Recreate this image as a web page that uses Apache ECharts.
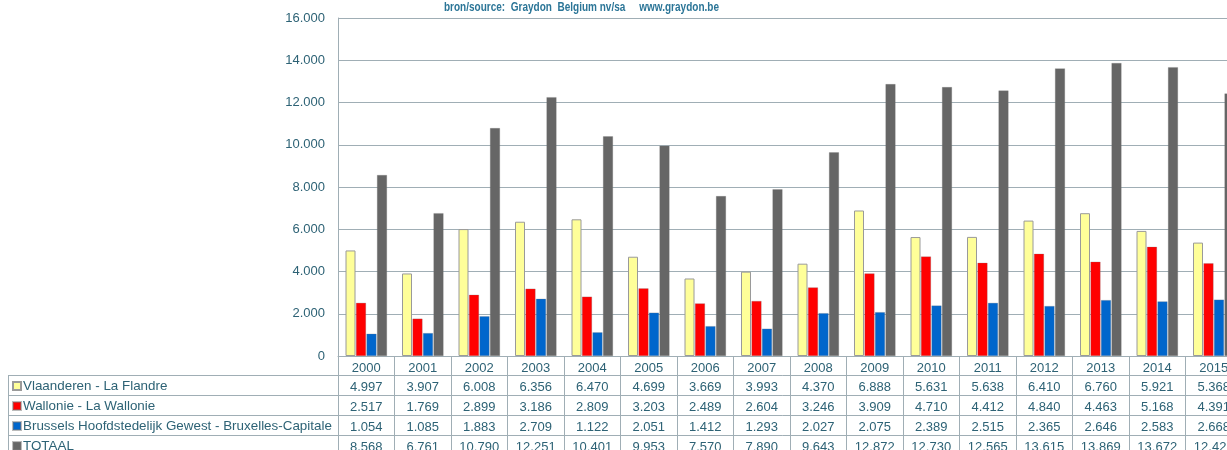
<!DOCTYPE html>
<html>
<head>
<meta charset="utf-8">
<script src="https://cdn.jsdelivr.net/npm/echarts@6/dist/echarts.min.js"></script>
<style>
  html, body { margin: 0; padding: 0; background: #fff; }
  #chart { width: 1227px; height: 450px; }
</style>
</head>
<body>
<div id="chart"></div>
<script>
    // jaren en aantallen (bron: Graydon)
    var years = ['2000','2001','2002','2003','2004','2005','2006','2007','2008','2009','2010','2011','2012','2013','2014','2015'];
    var vlaanderen = [4997,3907,6008,6356,6470,4699,3669,3993,4370,6888,5631,5638,6410,6760,5921,5368];
    var wallonie = [2517,1769,2899,3186,2809,3203,2489,2604,3246,3909,4710,4412,4840,4463,5168,4391];
    var brussel = [1054,1085,1883,2709,1122,2051,1412,1293,2027,2075,2389,2515,2365,2646,2583,2668];
    var totaal = [8568,6761,10790,12251,10401,9953,7570,7890,9643,12872,12730,12565,13615,13869,13672,12427];
    var seriesNames = ['Vlaanderen - La Flandre','Wallonie - La Wallonie','Brussels Hoofdstedelijk Gewest - Bruxelles-Capitale','TOTAAL'];
    var yTicks = [0,2000,4000,6000,8000,10000,12000,14000,16000];

    var textColor = '#2d6275';
    var lineColor = '#a0aeb5';
    var font = "'Liberation Sans', Arial, sans-serif";

    function fmt(v){
        return String(v).replace(/\B(?=(\d{3})+(?!\d))/g, '.');
    }

    var allData = [vlaanderen, wallonie, brussel, totaal];
    var colors = ['#ffff99','#ff0000','#0066cc','#666666'];

    // extra x-assen = rijen van de datatabel
    var xAxes = [{
        type: 'category',
        data: years,
        position: 'bottom',
        axisLine: {lineStyle: {color: lineColor}},
        axisTick: {show: true, interval: 0, length: 19, lineStyle: {color: lineColor}},
        axisLabel: {interval: 0, color: textColor, fontSize: 13, fontFamily: font, margin: 6}
    }];
    for(var i=0;i<allData.length;i++){
        xAxes.push({
            type: 'category',
            data: allData[i].map(fmt),
            position: 'bottom',
            offset: 19 + i*20,
            axisLine: {show: true, lineStyle: {color: lineColor}},
            axisTick: {show: true, interval: 0, length: 20, lineStyle: {color: lineColor}},
            axisLabel: {interval: 0, color: textColor, fontSize: 13, fontFamily: font, margin: 6}
        });
    }

    var series = [];
    for(var j=0;j<allData.length;j++){
        series.push({
            name: seriesNames[j],
            type: 'bar',
            xAxisIndex: 0,
            data: allData[j],
            barWidth: 10,
            barGap: '5%',
            itemStyle: {color: colors[j], borderColor: j==0 ? '#9a9a9a' : 'rgba(120,120,120,0.5)', borderWidth: j==0 ? 1 : 0.5}
        });
    }

    // linker kolom van de tabel + titel
    var graphics = [];
    var rowTops = [375,395,415,435,455];
    for(var r=0;r<rowTops.length;r++){
        graphics.push({type:'line', shape:{x1:8,y1:rowTops[r]+0.5,x2:338,y2:rowTops[r]+0.5}, style:{stroke:lineColor, lineWidth:1}, silent:true});
    }
    graphics.push({type:'line', shape:{x1:8.5,y1:375,x2:8.5,y2:455}, style:{stroke:lineColor, lineWidth:1}, silent:true});
    graphics.push({
        type: 'text', x: 444, y: 1, scaleX: 0.77,
        style: {text: 'bron/source:  Graydon  Belgium nv/sa     www.graydon.be', fill: '#2b7597', font: 'bold 13px ' + font}
    });

    var myChart = echarts.init(document.getElementById('chart'));
    var option = {
        animation: false,
        legend: {
            orient: 'vertical',
            left: 12,
            top: 376,
            height: 120,
            padding: 0,
            itemGap: 0,
            itemWidth: 8,
            itemHeight: 8,
            icon: 'rect',
            data: seriesNames,
            textStyle: {color: textColor, fontSize: 13.4, fontFamily: font, lineHeight: 20, padding: [0,0,0,-3]}
        },
        grid: {
            left: 338,
            top: 18,
            width: 904,
            height: 338,
            outerBoundsMode: 'none'
        },
        xAxis: xAxes,
        yAxis: {
            type: 'value',
            min: yTicks[0],
            max: yTicks[yTicks.length-1],
            interval: 2000,
            axisLine: {show: true, lineStyle: {color: lineColor}},
            axisTick: {show: false},
            splitLine: {lineStyle: {color: lineColor}},
            axisLabel: {color: textColor, fontSize: 13, fontFamily: font, margin: 13, formatter: fmt}
        },
        graphic: graphics,
        series: series
    };
    myChart.setOption(option);
</script>
</body>
</html>
